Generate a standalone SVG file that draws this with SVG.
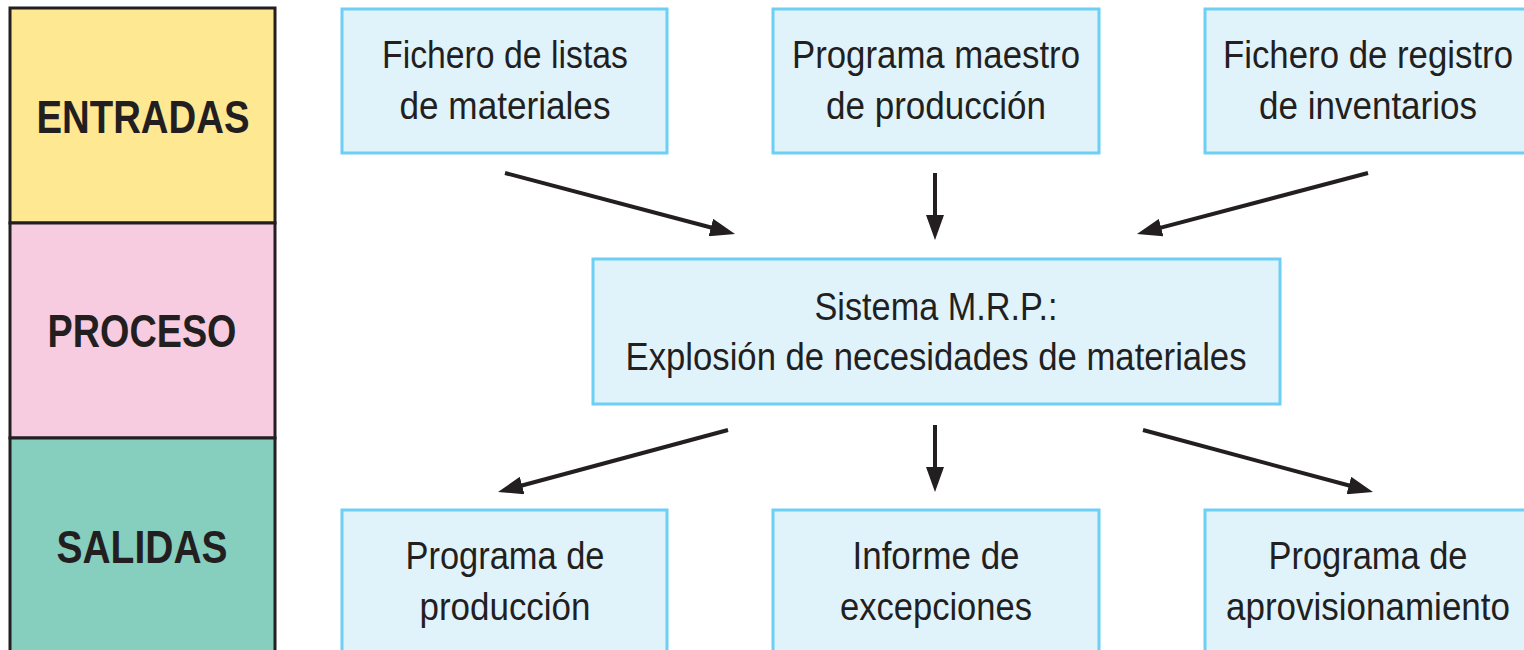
<svg xmlns="http://www.w3.org/2000/svg" width="1524" height="650" viewBox="0 0 1524 650">
<style>
.band{stroke:#231f20;stroke-width:3}
.box{fill:#e0f3fb;stroke:#6dcff6;stroke-width:3}
.t{font-family:"Liberation Sans Narrow","Liberation Sans",Arial,sans-serif;font-size:38px;fill:#231f20;text-anchor:middle}
.h{font-family:"Liberation Sans Narrow","Liberation Sans",Arial,sans-serif;font-size:47px;font-weight:bold;fill:#231f20;text-anchor:middle}
.c{stroke:#231f20;stroke-width:4;fill:none}
</style>
<defs>
<marker id="ah" viewBox="0 -9 25 18" refX="5" refY="0" markerWidth="25" markerHeight="18" markerUnits="userSpaceOnUse" orient="auto">
<path d="M0,-9 L25,0 L0,9 z" fill="#231f20"/>
</marker>
</defs>
<rect width="1524" height="650" fill="#ffffff"/>
<g id="entradas">
<rect class="band" x="10" y="8" width="265" height="215" fill="#fee891"/>
<text class="h" x="143" y="133" textLength="213" lengthAdjust="spacingAndGlyphs">ENTRADAS</text>
</g>
<g id="proceso">
<rect class="band" x="10" y="223" width="265" height="215" fill="#f7cce0"/>
<text class="h" x="142" y="347" textLength="189" lengthAdjust="spacingAndGlyphs">PROCESO</text>
</g>
<g id="salidas">
<rect class="band" x="10" y="438" width="265" height="220" fill="#86cfbf"/>
<text class="h" x="142" y="563" textLength="171" lengthAdjust="spacingAndGlyphs">SALIDAS</text>
</g>
<g id="fichero-listas">
<rect class="box" x="342" y="9" width="325" height="144"/>
<text class="t" x="505" y="68" textLength="246" lengthAdjust="spacingAndGlyphs">Fichero de listas</text>
<text class="t" x="505" y="119" textLength="211" lengthAdjust="spacingAndGlyphs">de materiales</text>
</g>
<g id="programa-maestro">
<rect class="box" x="773" y="9" width="326" height="144"/>
<text class="t" x="936" y="68" textLength="288" lengthAdjust="spacingAndGlyphs">Programa maestro</text>
<text class="t" x="936" y="119" textLength="220" lengthAdjust="spacingAndGlyphs">de producción</text>
</g>
<g id="fichero-registro">
<rect class="box" x="1205" y="9" width="322" height="144"/>
<text class="t" x="1368" y="68" textLength="290" lengthAdjust="spacingAndGlyphs">Fichero de registro</text>
<text class="t" x="1368" y="119" textLength="218" lengthAdjust="spacingAndGlyphs">de inventarios</text>
</g>
<g id="sistema-mrp">
<rect class="box" x="593" y="259" width="687" height="145"/>
<text class="t" x="936" y="320" textLength="243" lengthAdjust="spacingAndGlyphs">Sistema M.R.P.:</text>
<text class="t" x="936" y="370" textLength="621" lengthAdjust="spacingAndGlyphs">Explosión de necesidades de materiales</text>
</g>
<g id="programa-produccion">
<rect class="box" x="342" y="510" width="325" height="150"/>
<text class="t" x="505" y="569" textLength="199" lengthAdjust="spacingAndGlyphs">Programa de</text>
<text class="t" x="505" y="620" textLength="171" lengthAdjust="spacingAndGlyphs">producción</text>
</g>
<g id="informe-excepciones">
<rect class="box" x="773" y="510" width="326" height="150"/>
<text class="t" x="936" y="569" textLength="167" lengthAdjust="spacingAndGlyphs">Informe de</text>
<text class="t" x="936" y="620" textLength="192" lengthAdjust="spacingAndGlyphs">excepciones</text>
</g>
<g id="programa-aprovisionamiento">
<rect class="box" x="1205" y="510" width="322" height="150"/>
<text class="t" x="1368" y="569" textLength="199" lengthAdjust="spacingAndGlyphs">Programa de</text>
<text class="t" x="1368" y="620" textLength="284" lengthAdjust="spacingAndGlyphs">aprovisionamiento</text>
</g>
<g id="connectors">
<line class="c" x1="505" y1="173" x2="715.7" y2="228.8" marker-end="url(#ah)"/>
<line class="c" x1="935" y1="173" x2="935" y2="220" marker-end="url(#ah)"/>
<line class="c" x1="1368" y1="173" x2="1156.3" y2="228.9" marker-end="url(#ah)"/>
<line class="c" x1="728" y1="430" x2="517.3" y2="486.8" marker-end="url(#ah)"/>
<line class="c" x1="935" y1="425" x2="935" y2="472" marker-end="url(#ah)"/>
<line class="c" x1="1143" y1="430" x2="1353.7" y2="486.8" marker-end="url(#ah)"/>
</g>
</svg>
